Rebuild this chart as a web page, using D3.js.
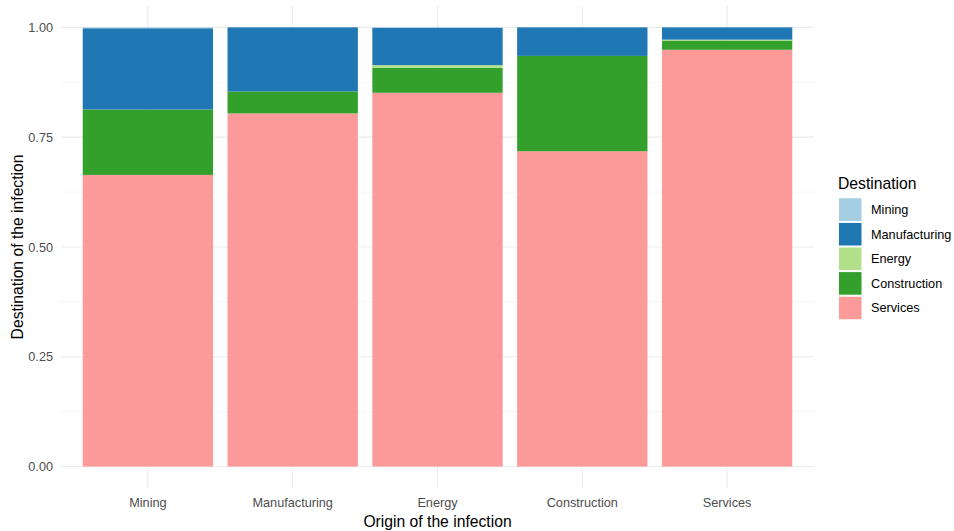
<!DOCTYPE html>
<html>
<head>
<meta charset="utf-8">
<script src="https://cdn.jsdelivr.net/npm/d3@7"></script>
<style>
  html, body { margin: 0; padding: 0; background: #fff; }
  svg { display: block; font-family: "Liberation Sans", Arial, sans-serif; }
</style>
</head>
<body>
<svg id="chart" width="954" height="531"></svg>
<script>
// ---- Data ----
const origins = ["Mining", "Manufacturing", "Energy", "Construction", "Services"];
const destinations = ["Mining", "Manufacturing", "Energy", "Construction", "Services"];
// share of each destination, per origin (same order as origins)
const destMining        = [0.002, 0.000, 0.001, 0.000, 0.000];
const destManufacturing = [0.185, 0.146, 0.085, 0.065, 0.028];
const destEnergy        = [0.000, 0.000, 0.006, 0.000, 0.002];
const destConstruction  = [0.149, 0.050, 0.057, 0.217, 0.021];
const destServices      = [0.664, 0.804, 0.851, 0.718, 0.949];
const yTicks = [0, 0.25, 0.5, 0.75, 1];
const yMinor = [0.125, 0.375, 0.625, 0.875];
const colors = ["#A6CEE3", "#1F78B4", "#B2DF8A", "#33A02C", "#FB9A99"];

const seriesValues = {
  "Mining": destMining,
  "Manufacturing": destManufacturing,
  "Energy": destEnergy,
  "Construction": destConstruction,
  "Services": destServices
};

const rows = origins.map((o, i) => {
  const r = { origin: o };
  destinations.forEach(d => { r[d] = seriesValues[d][i]; });
  return r;
});

// ---- Layout ----
const svg = d3.select("#chart");
const panel = { left: 61, right: 814, top: 5.4, bottom: 488.5 };
const tickFont = "12.7px";
const titleFont = "15.7px";

const x = d3.scaleBand()
  .domain(origins)
  .range([panel.left, panel.right])
  .paddingInner(0.1)
  .paddingOuter(0.15);

const y = d3.scaleLinear()
  .domain([-0.05, 1.05])
  .range([panel.bottom, panel.top]);

// Grid
const grid = svg.append("g");
grid.selectAll("line.minor").data(yMinor).join("line")
  .attr("x1", panel.left).attr("x2", panel.right)
  .attr("y1", d => y(d)).attr("y2", d => y(d))
  .attr("stroke", "#ebebeb").attr("stroke-width", 0.55);
grid.selectAll("line.major").data(yTicks).join("line")
  .attr("x1", panel.left).attr("x2", panel.right)
  .attr("y1", d => y(d)).attr("y2", d => y(d))
  .attr("stroke", "#ebebeb").attr("stroke-width", 1.07);
grid.selectAll("line.vert").data(origins).join("line")
  .attr("x1", d => x(d) + x.bandwidth() / 2).attr("x2", d => x(d) + x.bandwidth() / 2)
  .attr("y1", panel.top).attr("y2", panel.bottom)
  .attr("stroke", "#ebebeb").attr("stroke-width", 1.07);

// Stack: last destination at the bottom (ggplot order)
const stack = d3.stack().keys(destinations.slice().reverse());
const stacked = stack(rows);
const color = d3.scaleOrdinal().domain(destinations).range(colors);

svg.append("g").selectAll("g").data(stacked).join("g")
  .attr("fill", d => color(d.key))
  .selectAll("rect").data(d => d).join("rect")
  .attr("x", d => x(d.data.origin))
  .attr("width", x.bandwidth())
  .attr("y", d => y(d[1]))
  .attr("height", d => Math.max(0, y(d[0]) - y(d[1])));

// Y axis labels
const yAxis = d3.axisLeft(y).tickValues(yTicks).tickFormat(d3.format(".2f")).tickSize(0).tickPadding(8);
const gy = svg.append("g").attr("transform", `translate(${panel.left},0)`).call(yAxis);
gy.select(".domain").remove();
gy.selectAll("text").attr("fill", "#4d4d4d").style("font-size", tickFont)
  .style("font-family", "'Liberation Sans', Arial, sans-serif");

// X axis labels
const xAxis = d3.axisBottom(x).tickSize(0).tickPadding(9);
const gx = svg.append("g").attr("transform", `translate(0,${panel.bottom})`).call(xAxis);
gx.select(".domain").remove();
gx.selectAll("text").attr("fill", "#4d4d4d").style("font-size", tickFont)
  .style("font-family", "'Liberation Sans', Arial, sans-serif");

// Axis titles
svg.append("text")
  .attr("x", (panel.left + panel.right) / 2).attr("y", 526.5)
  .attr("text-anchor", "middle").attr("fill", "#000")
  .style("font-size", titleFont).text("Origin of the infection");
svg.append("text")
  .attr("transform", `translate(23,${(panel.top + panel.bottom) / 2}) rotate(-90)`)
  .attr("text-anchor", "middle").attr("fill", "#000")
  .style("font-size", titleFont).text("Destination of the infection");

// Legend
const legend = svg.append("g").attr("transform", "translate(838,0)");
legend.append("text").attr("x", 0).attr("y", 189)
  .attr("fill", "#000").style("font-size", titleFont).text("Destination");
const keyH = 24.6;
const items = legend.selectAll("g.item").data(destinations).join("g")
  .attr("transform", (d, i) => `translate(0,${197.3 + i * keyH})`);
items.append("rect")
  .attr("x", 0.5).attr("y", 0.5).attr("width", 23.5).attr("height", keyH - 1)
  .attr("fill", d => color(d)).attr("stroke", "#fff").attr("stroke-width", 1);
items.append("text")
  .attr("x", 33).attr("y", keyH / 2 + 4.5)
  .attr("fill", "#000").style("font-size", tickFont).text(d => d);
</script>
</body>
</html>
